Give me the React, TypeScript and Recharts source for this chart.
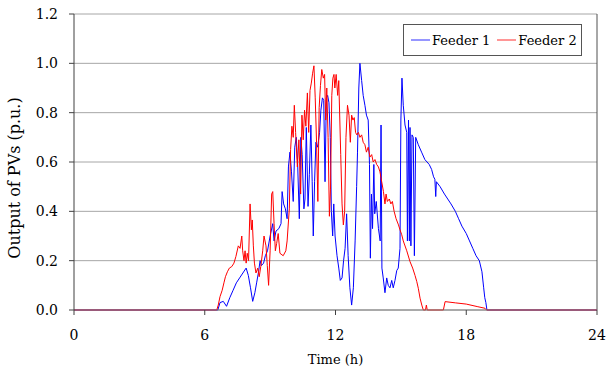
import React from "react";
import {
  LineChart,
  Line,
  XAxis,
  YAxis,
  CartesianGrid,
  Legend,
  ReferenceLine,
} from "recharts";

// hours of day
const xTicks = [0, 6, 12, 18, 24];
const yTicks = [0, 0.2, 0.4, 0.6, 0.8, 1.0, 1.2];

// Feeder 1 (blue)
const feeder1Time = [
  0, 6.6, 6.7, 6.85, 7.0, 7.15, 7.3, 7.45, 7.6, 7.75, 7.9, 8.0, 8.1, 8.2, 8.3,
  8.38, 8.46, 8.54, 8.6, 8.7, 8.78, 8.88, 9.0, 9.12, 9.18, 9.27, 9.4, 9.5, 9.55,
  9.62, 9.7, 9.78, 9.84, 9.91, 9.98, 10.06, 10.13, 10.2, 10.26, 10.34, 10.41,
  10.47, 10.55, 10.6, 10.66, 10.74, 10.8, 10.87, 10.93, 10.98, 11.04, 11.1,
  11.18, 11.27, 11.33, 11.4, 11.46, 11.52, 11.58, 11.64, 11.7, 11.76, 11.81,
  11.87, 11.92, 11.98, 12.07, 12.15, 12.22, 12.3, 12.37, 12.44, 12.51, 12.58,
  12.66, 12.74, 12.82, 12.9, 12.97, 13.01, 13.07, 13.12, 13.2, 13.27, 13.35,
  13.42, 13.5, 13.56, 13.6, 13.65, 13.7, 13.76, 13.8, 13.87, 13.97, 14.05,
  14.09, 14.13, 14.19, 14.27, 14.35, 14.42, 14.5, 14.58, 14.65, 14.73, 14.81,
  14.88, 14.96, 15.0, 15.05, 15.11, 15.19, 15.27, 15.3, 15.35, 15.39, 15.42,
  15.46, 15.51, 15.57, 15.62, 15.68, 15.8, 15.95, 16.1, 16.3, 16.41, 16.5,
  16.56, 16.6, 16.63, 16.8, 17.0, 17.15, 17.3, 17.5, 17.65, 17.8, 18.0, 18.15,
  18.3, 18.45, 18.6, 18.72, 18.8, 18.85, 18.9, 18.95, 24,
];
const feeder1Value = [
  0, 0, 0.03, 0.035, 0.015, 0.05, 0.08, 0.11, 0.13, 0.15, 0.17, 0.14, 0.09,
  0.035, 0.07, 0.11, 0.15, 0.2, 0.18, 0.19, 0.22, 0.24, 0.3, 0.35, 0.28, 0.32,
  0.33, 0.35, 0.48, 0.43, 0.41, 0.37, 0.58, 0.64, 0.56, 0.44, 0.66, 0.7, 0.6,
  0.37, 0.7, 0.63, 0.41, 0.45, 0.74, 0.42, 0.55, 0.75, 0.52, 0.3, 0.52, 0.68,
  0.66, 0.72, 0.81, 0.86, 0.85, 0.52, 0.86, 0.87, 0.84, 0.7, 0.4, 0.3, 0.43,
  0.3, 0.22, 0.17, 0.12, 0.13, 0.2, 0.25, 0.39, 0.22, 0.09, 0.02, 0.09, 0.28,
  0.5, 0.64, 0.9, 1.0, 0.93, 0.87, 0.83, 0.79, 0.77, 0.59, 0.21, 0.47, 0.33,
  0.59, 0.39, 0.44, 0.33, 0.28, 0.75, 0.17, 0.13, 0.07, 0.13, 0.1, 0.09, 0.12,
  0.09, 0.12, 0.16, 0.17, 0.25, 0.77, 0.94, 0.83, 0.75, 0.72, 0.28, 0.77, 0.28,
  0.74, 0.26, 0.71, 0.7, 0.22, 0.7, 0.67, 0.64, 0.61, 0.59, 0.57, 0.54, 0.53,
  0.46, 0.52, 0.5, 0.47, 0.45, 0.43, 0.4, 0.37, 0.34, 0.31, 0.28, 0.25, 0.22,
  0.2, 0.155, 0.09, 0.05, 0.03, 0, 0,
];

// Feeder 2 (red)
const feeder2Time = [
  0, 6.55, 6.62, 6.7, 6.8, 6.88, 6.95, 7.04, 7.13, 7.24, 7.34, 7.43, 7.54,
  7.62, 7.7, 7.74, 7.8, 7.85, 7.9, 7.95, 8.01, 8.08, 8.14, 8.18, 8.23, 8.28,
  8.35, 8.43, 8.5, 8.57, 8.66, 8.72, 8.81, 8.87, 8.93, 9.0, 9.07, 9.12, 9.18,
  9.24, 9.3, 9.37, 9.45, 9.6, 9.72, 9.78, 9.88, 9.94, 10.0, 10.06, 10.11,
  10.17, 10.25, 10.32, 10.4, 10.46, 10.52, 10.58, 10.64, 10.71, 10.77, 10.83,
  10.89, 10.95, 11.01, 11.07, 11.13, 11.19, 11.25, 11.31, 11.37, 11.44, 11.5,
  11.55, 11.6, 11.66, 11.72, 11.77, 11.83, 11.88, 11.93, 11.97, 12.03, 12.1,
  12.15, 12.24, 12.3, 12.36, 12.42, 12.48, 12.55, 12.62, 12.68, 12.74, 12.8,
  12.86, 12.92, 12.98, 13.05, 13.12, 13.2, 13.27, 13.35, 13.42, 13.5, 13.58,
  13.66, 13.73, 13.81, 13.89, 13.97, 14.04, 14.12, 14.2, 14.27, 14.32, 14.38,
  14.47, 14.54, 14.61, 14.69, 14.78, 14.89, 14.96, 15.04, 15.11, 15.27, 15.42,
  15.54, 15.65, 15.73, 15.8, 15.88, 15.96, 16.03, 16.13, 16.17, 16.21, 16.95,
  17.03, 17.5, 18.0, 18.5, 18.86, 18.93, 24,
];
const feeder2Value = [
  0, 0, 0.02, 0.054, 0.08, 0.11, 0.135, 0.155, 0.17, 0.176, 0.19, 0.217, 0.26,
  0.25, 0.3, 0.24, 0.2, 0.24, 0.19, 0.23, 0.2, 0.43, 0.325, 0.365, 0.26, 0.19,
  0.15, 0.17, 0.135, 0.176, 0.24, 0.3, 0.26, 0.18, 0.1, 0.24, 0.47, 0.48, 0.35,
  0.24, 0.27, 0.31, 0.23, 0.22, 0.24, 0.28, 0.41, 0.65, 0.745, 0.7, 0.83, 0.72,
  0.58, 0.69, 0.47, 0.79, 0.69, 0.81, 0.745, 0.88, 0.72, 0.89, 0.92, 0.96,
  0.99, 0.86, 0.68, 0.44, 0.82, 0.91, 0.975, 0.94, 0.955, 0.77, 0.9, 0.7, 0.38,
  0.49, 0.87, 0.94, 0.955, 0.9, 0.955, 0.87, 0.93, 0.63, 0.43, 0.345, 0.4, 0.7,
  0.83, 0.79, 0.68, 0.79, 0.77, 0.78, 0.72, 0.71, 0.72, 0.7, 0.71, 0.68, 0.67,
  0.64, 0.66, 0.62, 0.63, 0.6, 0.61, 0.59, 0.58, 0.56, 0.52, 0.48, 0.43, 0.47,
  0.44, 0.45, 0.43, 0.44, 0.4, 0.37, 0.345, 0.325, 0.305, 0.28, 0.24, 0.196,
  0.17, 0.14, 0.115, 0.088, 0.048, 0.02, 0, 0, 0.02, 0, 0, 0.034, 0.029, 0.024,
  0.014, 0.007, 0, 0,
];

const feeder1 = feeder1Time.map((t, i) => ({ t, v: feeder1Value[i] }));
const feeder2 = feeder2Time.map((t, i) => ({ t, v: feeder2Value[i] }));

const FONT = "'DejaVu Serif', serif";

const LegendBox = (props: any) => {
  const items = props.payload || [];
  return (
    <div
      style={{
        border: "1px solid #555",
        background: "#fff",
        height: 30,
        width: 170,
        display: "flex",
        alignItems: "center",
        paddingLeft: 7,
        fontFamily: FONT,
        fontSize: 13,
        color: "#000",
        whiteSpace: "nowrap",
      }}
    >
      {items.map((it: any) => (
        <span
          key={it.value}
          style={{ display: "flex", alignItems: "center", marginRight: 7 }}
        >
          <svg width={19} height={4} style={{ marginRight: 2 }}>
            <line x1={0} y1={2} x2={19} y2={2} stroke={it.color} strokeWidth={1.5} strokeOpacity={0.55} />
          </svg>
          {it.value}
        </span>
      ))}
    </div>
  );
};

export default function App() {
  return (
    <div
      style={{
        position: "absolute",
        left: 0,
        top: 0,
        width: 607,
        height: 374,
        background: "#fff",
        fontFamily: FONT,
      }}
    >
      <LineChart
        width={607}
        height={374}
        margin={{ top: 14, right: 10, left: 0, bottom: 0 }}
      >
        <CartesianGrid vertical={false} stroke="#a6a6a6" />
        <XAxis
          dataKey="t"
          type="number"
          domain={[0, 24]}
          ticks={xTicks}
          height={64}
          tickSize={5}
          tickMargin={15}
          axisLine={{ stroke: "#808080" }}
          tickLine={{ stroke: "#404040" }}
          tick={{ fill: "#000", fontSize: 14, fontFamily: FONT }}
          allowDuplicatedCategory={false}
          label={{
            value: "Time (h)",
            position: "insideBottom",
            offset: 10,
            fill: "#000",
            fontSize: 13,
            fontFamily: FONT,
          }}
        />
        <YAxis
          type="number"
          domain={[0, 1.2]}
          ticks={yTicks}
          width={74}
          tickSize={5}
          tickMargin={11}
          tickFormatter={(v: number) => v.toFixed(1)}
          axisLine={{ stroke: "#404040" }}
          tickLine={{ stroke: "#404040" }}
          tick={{ fill: "#000", fontSize: 14, fontFamily: FONT }}
          label={{
            value: "Output of PVs (p.u.)",
            angle: -90,
            position: "insideLeft",
            offset: 14,
            dy: 16,
            fill: "#000",
            fontSize: 16,
            fontFamily: FONT,
            style: { textAnchor: "middle" },
          }}
        />
        <ReferenceLine x={24} stroke="#505050" />
        <Legend
          layout="horizontal"
          verticalAlign="middle"
          align="center"
          content={<LegendBox />}
          wrapperStyle={{ position: "absolute", left: 403, top: 24, width: 179, height: 32 }}
        />
        <Line
          data={feeder1}
          dataKey="v"
          name="Feeder 1"
          type="linear"
          stroke="#0000ff"
          strokeWidth={1}
          dot={false}
          activeDot={false}
          isAnimationActive={false}
        />
        <Line
          data={feeder2}
          dataKey="v"
          name="Feeder 2"
          type="linear"
          stroke="#ff0000"
          strokeWidth={1}
          dot={false}
          activeDot={false}
          isAnimationActive={false}
        />
      </LineChart>
    </div>
  );
}
